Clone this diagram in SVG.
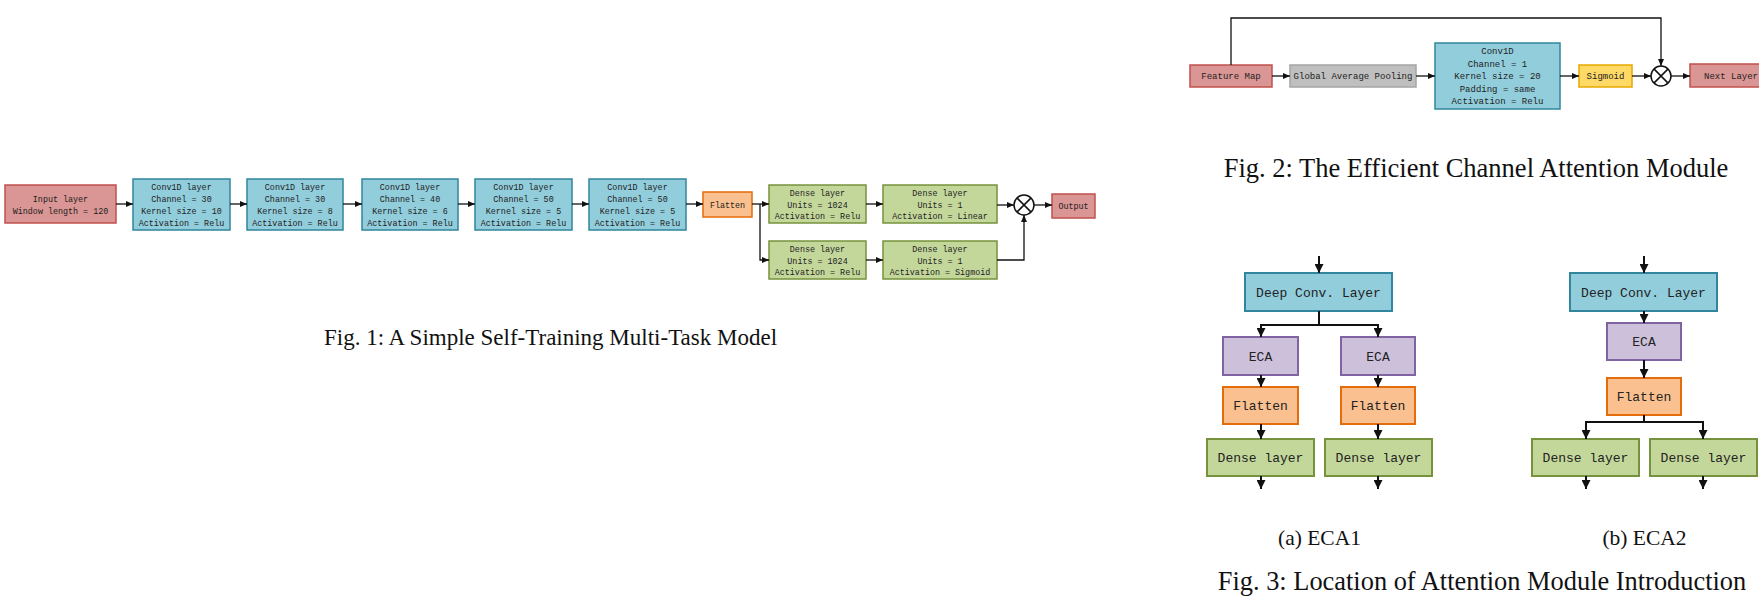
<svg xmlns="http://www.w3.org/2000/svg" width="1759" height="607" viewBox="0 0 1759 607">
<defs>
<style>
.m{font-family:"Liberation Mono","DejaVu Sans Mono",monospace;fill:#222;text-anchor:middle}
.f1{font-size:8.4px}
.f2{font-size:9px}
.f3{font-size:13px}
.cap{font-family:"Liberation Serif","Times New Roman",serif;fill:#111;text-anchor:middle}
.red{fill:#DA9694;stroke:#C0504D}
.blue{fill:#92CDDC;stroke:#31859C}
.green{fill:#C4D79B;stroke:#76923C}
.orange{fill:#FAC090;stroke:#E46C0A}
.gray{fill:#BFBFBF;stroke:#A5A5A5}
.yellow{fill:#FFD966;stroke:#E6A800}
.purple{fill:#CCC0DA;stroke:#8064A2}
.s1{stroke-width:1.5}
.s2{stroke-width:2}
.c1{fill:none;stroke:#111;stroke-width:1.3}
.c3{fill:none;stroke:#111;stroke-width:2}
</style>
<marker id="a" markerUnits="userSpaceOnUse" markerWidth="7" markerHeight="6" refX="7" refY="3" orient="auto"><path d="M0,0 L7,3 L0,6 z" fill="#111"/></marker>
<marker id="b" markerUnits="userSpaceOnUse" markerWidth="9" markerHeight="9" refX="9" refY="4.5" orient="auto"><path d="M0,0 L9,4.5 L0,9 z" fill="#111"/></marker>
</defs>
<rect width="1759" height="607" fill="#fff"/>

<!-- Fig 1 -->
<g id="input"><rect class="red s1" x="5" y="185" width="111" height="38"/><text class="m f1" x="60.5" y="202">Input layer</text><text class="m f1" x="60.5" y="214">Window length = 120</text></g>
<g id="conv1"><rect class="blue s1" x="133" y="179" width="97" height="51"/><text class="m f1" x="181.5" y="190">Conv1D layer</text><text class="m f1" x="181.5" y="202">Channel = 30</text><text class="m f1" x="181.5" y="214">Kernel size = 10</text><text class="m f1" x="181.5" y="226">Activation = Relu</text></g>
<g id="conv2"><rect class="blue s1" x="247" y="179" width="96" height="51"/><text class="m f1" x="295" y="190">Conv1D layer</text><text class="m f1" x="295" y="202">Channel = 30</text><text class="m f1" x="295" y="214">Kernel size = 8</text><text class="m f1" x="295" y="226">Activation = Relu</text></g>
<g id="conv3"><rect class="blue s1" x="362" y="179" width="96" height="51"/><text class="m f1" x="410" y="190">Conv1D layer</text><text class="m f1" x="410" y="202">Channel = 40</text><text class="m f1" x="410" y="214">Kernel size = 6</text><text class="m f1" x="410" y="226">Activation = Relu</text></g>
<g id="conv4"><rect class="blue s1" x="475" y="179" width="97" height="51"/><text class="m f1" x="523.5" y="190">Conv1D layer</text><text class="m f1" x="523.5" y="202">Channel = 50</text><text class="m f1" x="523.5" y="214">Kernel size = 5</text><text class="m f1" x="523.5" y="226">Activation = Relu</text></g>
<g id="conv5"><rect class="blue s1" x="589" y="179" width="97" height="51"/><text class="m f1" x="637.5" y="190">Conv1D layer</text><text class="m f1" x="637.5" y="202">Channel = 50</text><text class="m f1" x="637.5" y="214">Kernel size = 5</text><text class="m f1" x="637.5" y="226">Activation = Relu</text></g>
<g id="flatten1"><rect class="orange s1" x="703" y="192" width="49" height="25"/><text class="m f1" x="727.5" y="207.5">Flatten</text></g>
<g id="dense1a"><rect class="green s1" x="769" y="185" width="97" height="38"/><text class="m f1" x="817.5" y="196">Dense layer</text><text class="m f1" x="817.5" y="207.5">Units = 1024</text><text class="m f1" x="817.5" y="219">Activation = Relu</text></g>
<g id="dense2a"><rect class="green s1" x="883" y="185" width="114" height="38"/><text class="m f1" x="940" y="196">Dense layer</text><text class="m f1" x="940" y="207.5">Units = 1</text><text class="m f1" x="940" y="219">Activation = Linear</text></g>
<g id="dense1b"><rect class="green s1" x="769" y="241" width="97" height="38"/><text class="m f1" x="817.5" y="252">Dense layer</text><text class="m f1" x="817.5" y="263.5">Units = 1024</text><text class="m f1" x="817.5" y="275">Activation = Relu</text></g>
<g id="dense2b"><rect class="green s1" x="883" y="241" width="114" height="38"/><text class="m f1" x="940" y="252">Dense layer</text><text class="m f1" x="940" y="263.5">Units = 1</text><text class="m f1" x="940" y="275">Activation = Sigmoid</text></g>
<g id="mult1"><circle cx="1024" cy="205" r="10" fill="#fff" stroke="#111" stroke-width="1.5"/><path d="M1016.9,197.9 L1031.1,212.1 M1031.1,197.9 L1016.9,212.1" stroke="#111" stroke-width="1.5"/></g>
<g id="output"><rect class="red s1" x="1052" y="194" width="43" height="24"/><text class="m f1" x="1073.5" y="209">Output</text></g>
<text class="cap" x="550.5" y="345" font-size="23">Fig. 1: A Simple Self-Training Multi-Task Model</text>

<!-- Fig 2 -->
<g id="featuremap"><rect class="red s1" x="1190" y="65" width="82" height="22"/><text class="m f2" x="1231" y="79">Feature Map</text></g>
<g id="gap"><rect class="gray s1" x="1290" y="65" width="126" height="22"/><text class="m f2" x="1353" y="79">Global Average Pooling</text></g>
<g id="conv1d"><rect class="blue s1" x="1435" y="43" width="125" height="66"/><text class="m f2" x="1497.5" y="54">Conv1D</text><text class="m f2" x="1497.5" y="66.5">Channel = 1</text><text class="m f2" x="1497.5" y="79">Kernel size = 20</text><text class="m f2" x="1497.5" y="91.5">Padding = same</text><text class="m f2" x="1497.5" y="104">Activation = Relu</text></g>
<g id="sigmoid"><rect class="yellow s1" x="1579" y="65" width="53" height="22"/><text class="m f2" x="1605.5" y="79">Sigmoid</text></g>
<g id="mult2"><circle cx="1661" cy="76" r="10" fill="#fff" stroke="#111" stroke-width="1.5"/><path d="M1653.9,68.9 L1668.1,83.1 M1668.1,68.9 L1653.9,83.1" stroke="#111" stroke-width="1.5"/></g>
<g id="nextlayer"><rect class="red s1" x="1690" y="64" width="80" height="23"/><text class="m f2" x="1704" y="79" style="text-anchor:start">Next Layer</text></g>
<text class="cap" x="1476" y="177" font-size="26.5">Fig. 2: The Efficient Channel Attention Module</text>

<!-- Fig 3a -->
<g id="deepconv_a"><rect class="blue s2" x="1245" y="273" width="147" height="38"/><text class="m f3" x="1318.5" y="296.5">Deep Conv. Layer</text></g>
<g id="eca_a1"><rect class="purple s2" x="1223" y="337" width="75" height="38"/><text class="m f3" x="1260.5" y="360.5">ECA</text></g>
<g id="eca_a2"><rect class="purple s2" x="1341" y="337" width="74" height="38"/><text class="m f3" x="1378" y="360.5">ECA</text></g>
<g id="flatten_a1"><rect class="orange s2" x="1223" y="387" width="75" height="37"/><text class="m f3" x="1260.5" y="410">Flatten</text></g>
<g id="flatten_a2"><rect class="orange s2" x="1341" y="387" width="74" height="37"/><text class="m f3" x="1378" y="410">Flatten</text></g>
<g id="dense_a1"><rect class="green s2" x="1207" y="439" width="107" height="37"/><text class="m f3" x="1260.5" y="462">Dense layer</text></g>
<g id="dense_a2"><rect class="green s2" x="1325" y="439" width="107" height="37"/><text class="m f3" x="1378.5" y="462">Dense layer</text></g>
<text class="cap" x="1319.5" y="545" font-size="21.5">(a) ECA1</text>

<!-- Fig 3b -->
<g id="deepconv_b"><rect class="blue s2" x="1570" y="273" width="147" height="38"/><text class="m f3" x="1643.5" y="296.5">Deep Conv. Layer</text></g>
<g id="eca_b"><rect class="purple s2" x="1607" y="323" width="74" height="37"/><text class="m f3" x="1644" y="346">ECA</text></g>
<g id="flatten_b"><rect class="orange s2" x="1607" y="378" width="74" height="37"/><text class="m f3" x="1644" y="401">Flatten</text></g>
<g id="dense_b1"><rect class="green s2" x="1532" y="439" width="107" height="37"/><text class="m f3" x="1585.5" y="462">Dense layer</text></g>
<g id="dense_b2"><rect class="green s2" x="1650" y="439" width="107" height="37"/><text class="m f3" x="1703.5" y="462">Dense layer</text></g>
<text class="cap" x="1644.5" y="545" font-size="21.5">(b) ECA2</text>
<text class="cap" x="1482" y="590" font-size="26.4">Fig. 3: Location of Attention Module Introduction</text>

<g id="connectors">
<g class="c1" marker-end="url(#a)">
<path d="M116,204 H133"/>
<path d="M230,204 H247"/>
<path d="M343,204 H362"/>
<path d="M458,204 H475"/>
<path d="M572,204 H589"/>
<path d="M686,204 H703"/>
<path d="M752,204 H769"/>
<path d="M760,204 V260 H769"/>
<path d="M866,204 H883"/>
<path d="M866,260 H883"/>
<path d="M997,205 H1014"/>
<path d="M997,260 H1024 V215"/>
<path d="M1034,205 H1052"/>
<path d="M1272,76 H1290"/>
<path d="M1416,76 H1435"/>
<path d="M1560,76 H1579"/>
<path d="M1632,76 H1651"/>
<path d="M1671,76 H1690"/>
<path d="M1231,65 V18 H1661 V66"/>
</g>
<g class="c3" marker-end="url(#b)">
<path d="M1319,256 V273"/>
<path d="M1319,311 V325 H1261 V337"/>
<path d="M1319,325 H1378 V337"/>
<path d="M1261,375 V387"/>
<path d="M1378,375 V387"/>
<path d="M1261,424 V439"/>
<path d="M1378,424 V439"/>
<path d="M1261,476 V489"/>
<path d="M1378,476 V489"/>
<path d="M1644,256 V273"/>
<path d="M1644,311 V323"/>
<path d="M1644,360 V378"/>
<path d="M1644,415 V422 H1586 V439"/>
<path d="M1644,422 H1703 V439"/>
<path d="M1586,476 V489"/>
<path d="M1703,476 V489"/>
</g>
</g>
</svg>
